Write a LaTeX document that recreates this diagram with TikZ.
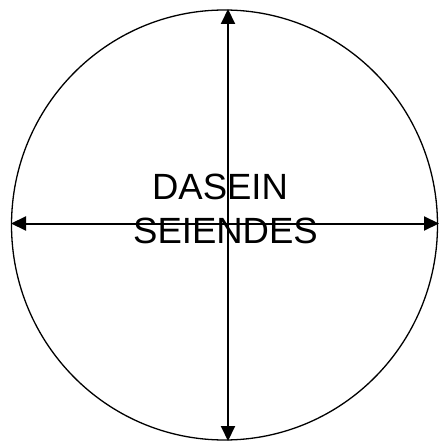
\documentclass[tikz,border=0pt]{standalone}
\usepackage{fontspec}
\setmainfont{Liberation Sans}
\usetikzlibrary{arrows.meta}
\definecolor{ink}{RGB}{0,0,0}
\tikzset{
  jring/.style={ink,line width=1.3pt},
  jaxis/.style={ink,line width=2pt,{Triangle[length=15pt,width=14pt]}-{Triangle[length=15pt,width=14pt]}},
  jword/.style={ink,font=\fontsize{36.5pt}{43pt}\selectfont,anchor=base,inner sep=0pt},
}
\begin{document}
\begin{tikzpicture}[x=1pt,y=-1pt]
  \useasboundingbox (0,0) rectangle (439,443);
  \coordinate (top)    at (228,9);
  \coordinate (bottom) at (228,441);
  \coordinate (left)   at (11,223.5);
  \coordinate (right)  at (439,223.5);
  \draw[jring] (224.5,225) ellipse [x radius=213, y radius=215];
  \draw[jaxis] (top) -- (bottom);
  \draw[jaxis] (left) -- (right);
  \node[jword] (dasein)   at (220,200) {DASEIN};
  \node[jword] (seiendes) at (225.5,243) {SEIENDES};
\end{tikzpicture}
\end{document}
